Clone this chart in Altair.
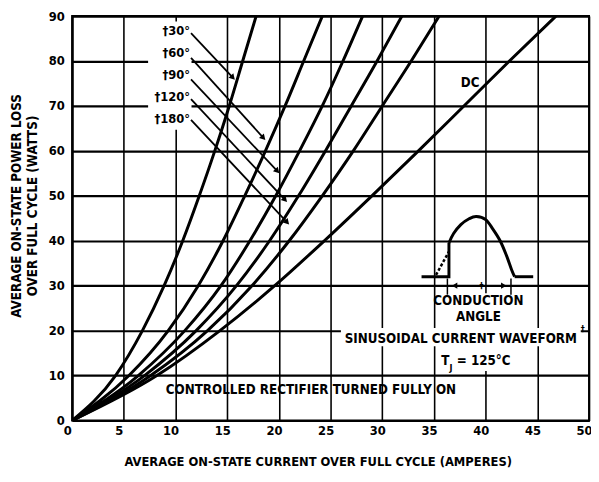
import altair as alt
import pandas as pd

FONT = "DejaVu Sans Condensed, Liberation Sans Narrow, DejaVu Sans, sans-serif"

# ---- curve data: current I (A) at power levels P (W)
P_LEVELS = [0, 10, 20, 30, 40, 50, 60, 70, 80, 90]
I_30 = [0, 4.2, 6.8, 8.9, 10.7, 12.3, 13.8, 15.2, 16.5, 17.8]
I_60 = [0, 5.5, 9.3, 12.2, 14.6, 16.7, 18.7, 20.6, 22.4, 24.2]
I_90 = [0, 6.4, 10.9, 14.4, 17.2, 19.7, 22.0, 24.2, 26.2, 28.1]
I_120 = [0, 7.0, 12.0, 15.9, 19.1, 21.9, 24.5, 27.0, 29.5, 31.9]
I_180 = [0, 7.6, 13.1, 17.4, 21.0, 24.2, 27.2, 30.0, 32.8, 35.5]
I_DC = [0, 8.2, 14.3, 19.6, 24.4, 29.0, 33.5, 37.9, 42.3, 46.8]

X_TICKS = [0, 5, 10, 15, 20, 25, 30, 35, 40, 45, 50]
Y_TICKS = [0, 10, 20, 30, 40, 50, 60, 70, 80, 90]

# ---- angle labels and their arrows
ANGLE_TEXT = ["†30°", "†60°", "†90°", "†120°", "†180°"]
ANGLE_LABEL_I = [11.4, 11.4, 11.4, 11.4, 11.4]
ANGLE_LABEL_P = [86.6, 81.8, 76.8, 71.9, 67.1]
ARROW_I0 = [11.5, 11.5, 11.5, 11.5, 11.5]
ARROW_P0 = [86.2, 80.7, 75.9, 71.5, 66.9]
ARROW_I1 = [15.55, 18.5, 19.85, 20.6, 20.8]
ARROW_P1 = [76.3, 62.9, 55.5, 49.1, 44.1]

# ---- inset waveform
WAVE_ARC_I = [36.45, 36.9, 37.6, 38.4, 39.1, 40.0, 40.7, 41.4, 42.0, 42.5, 42.8]
WAVE_ARC_P = [39.5, 41.6, 43.6, 44.9, 45.4, 44.7, 42.6, 40.0, 36.8, 33.6, 32.0]
WAVE_LEFT_I = [33.8, 36.45, 36.45]
WAVE_LEFT_P = [32.0, 32.0, 39.5]
WAVE_RIGHT_I = [42.8, 44.6]
WAVE_RIGHT_P = [32.0, 32.0]
WAVE_DASH_I = [35.2, 36.45]
WAVE_DASH_P = [32.4, 37.6]
DIM_I = [36.3, 42.45]
DIM_P = [30.0, 30.0]
DIM_TICK_P = [28.0, 31.6]

# ---- free texts
NOTE_TEXT = ["DC", "CONDUCTION", "ANGLE", "SINUSOIDAL CURRENT WAVEFORM",
             "CONTROLLED RECTIFIER TURNED FULLY ON", "= 125°C"]
NOTE_I = [38.5, 39.3, 39.3, 37.6, 23.1, 37.2]
NOTE_P = [75.2, 26.5, 23.0, 18.2, 6.8, 13.2]
NOTE_ALIGN = ["center", "center", "center", "center", "center", "left"]

# ---- white masks that interrupt the grid behind lettering
MASK_I = [7.35, 26.0, 35.4]
MASK_I2 = [11.55, 49.2, 43.5]
MASK_P = [64.7, 16.5, 11.0]
MASK_P2 = [88.8, 20.6, 28.3]

xs = alt.Scale(domain=[0, 50], nice=False, zero=True)
ys = alt.Scale(domain=[0, 90], nice=False, zero=True)

def X(field="I"):
    return alt.X(f"{field}:Q", scale=xs)

def Y(field="P"):
    return alt.Y(f"{field}:Q", scale=ys)

rows = []
for name, vals in [("30", I_30), ("60", I_60), ("90", I_90), ("120", I_120),
                   ("180", I_180), ("DC", I_DC)]:
    for i, p in zip(vals, P_LEVELS):
        rows.append({"curve": name, "I": i, "P": p})
curves_df = pd.DataFrame(rows)

curves = alt.Chart(curves_df).mark_line(color="black", strokeWidth=3, interpolate="monotone",
                                        clip=True).encode(
    x=alt.X("I:Q", scale=xs, axis=alt.Axis(
        values=X_TICKS, grid=True, gridColor="black", gridWidth=1.6, gridOpacity=1,
        domain=True, domainColor="black", domainWidth=2, ticks=False,
        labelFont=FONT, labelFontSize=13, labelFontWeight="bold", labelColor="black",
        labelPadding=4, labelOffset=-5, labelFlush=False, labelOverlap=False, labelBound=False,
        title="AVERAGE ON-STATE CURRENT OVER FULL CYCLE (AMPERES)",
        titleFont=FONT, titleFontSize=13, titleFontWeight="bold", titleColor="black",
        titleX=249, titleY=46, titleAlign="center", titleBaseline="alphabetic")),
    y=alt.Y("P:Q", scale=ys, axis=alt.Axis(
        values=Y_TICKS, grid=True, gridColor="black", gridWidth=2.2, gridOpacity=1,
        domain=True, domainColor="black", domainWidth=2, ticks=False,
        labelFont=FONT, labelFontSize=13, labelFontWeight="bold", labelColor="black",
        labelPadding=8, labelFlush=False, labelOverlap=False, labelBound=False,
        title=["AVERAGE ON-STATE POWER LOSS", "OVER FULL CYCLE (WATTS)"],
        titleFont=FONT, titleFontSize=13.5, titleFontWeight="bold", titleColor="black",
        titleLineHeight=15.5, titleAngle=-90, titleX=-56, titleY=192, titleAlign="center",
        titleBaseline="middle")),
    detail="curve:N",
    order="P:Q",
)

masks = alt.Chart(pd.DataFrame({"I": MASK_I, "I2": MASK_I2, "P": MASK_P, "P2": MASK_P2})).mark_rect(
    color="white").encode(x=X(), x2="I2:Q", y=Y(), y2="P2:Q")

arrow_df = pd.DataFrame({"I": ARROW_I0, "P": ARROW_P0, "I2": ARROW_I1, "P2": ARROW_P1})
arrows = alt.Chart(arrow_df).mark_rule(color="black", strokeWidth=1.8).encode(
    x=X(), y=Y(), x2="I2:Q", y2="P2:Q")
heads = alt.Chart(pd.DataFrame({"I": ARROW_I1, "P": ARROW_P1})).mark_point(
    shape="triangle-right", filled=True, color="black", opacity=1, size=45, angle=47).encode(
    x=X(), y=Y())

angle_labels = alt.Chart(pd.DataFrame({"I": ANGLE_LABEL_I, "P": ANGLE_LABEL_P, "t": ANGLE_TEXT})).mark_text(
    align="right", baseline="middle", font=FONT, fontSize=13, fontWeight="bold", color="black").encode(
    x=X(), y=Y(), text="t:N")

notes_df = pd.DataFrame({"I": NOTE_I, "P": NOTE_P, "t": NOTE_TEXT, "a": NOTE_ALIGN})
notes_c = alt.Chart(notes_df[notes_df.a == "center"]).mark_text(
    align="center", baseline="middle", font=FONT, fontSize=13.5, fontWeight="bold", color="black").encode(
    x=X(), y=Y(), text="t:N")
notes_l = alt.Chart(notes_df[notes_df.a == "left"]).mark_text(
    align="left", baseline="middle", font=FONT, fontSize=13.5, fontWeight="bold", color="black").encode(
    x=X(), y=Y(), text="t:N")

tj_T = alt.Chart(pd.DataFrame({"I": [36.5], "P": [13.2], "t": ["T"]})).mark_text(
    align="right", baseline="middle", font=FONT, fontSize=13.5, fontWeight="bold", color="black").encode(
    x=X(), y=Y(), text="t:N")
tj_J = alt.Chart(pd.DataFrame({"I": [36.5], "P": [11.6], "t": ["J"]})).mark_text(
    align="left", baseline="middle", font=FONT, fontSize=9, fontWeight="bold", color="black").encode(
    x=X(), y=Y(), text="t:N")
dagger = alt.Chart(pd.DataFrame({"I": [49.4, 39.6], "P": [20.3, 30.0], "t": ["†", "†"]})).mark_text(
    align="center", baseline="middle", font=FONT, fontSize=9, fontWeight="bold", color="black").encode(
    x=X(), y=Y(), text="t:N")

def wline(iv, pv, **kw):
    return alt.Chart(pd.DataFrame({"I": iv, "P": pv, "k": list(range(len(iv)))})).mark_line(
        color="black", **kw).encode(x=X(), y=Y(), order="k:Q")

wave = (wline(WAVE_ARC_I, WAVE_ARC_P, strokeWidth=3, interpolate="cardinal")
        + wline(WAVE_LEFT_I, WAVE_LEFT_P, strokeWidth=3)
        + wline(WAVE_RIGHT_I, WAVE_RIGHT_P, strokeWidth=3)
        + wline(WAVE_DASH_I, WAVE_DASH_P, strokeWidth=2.5, strokeDash=[3, 2]))

dim = wline(DIM_I, DIM_P, strokeWidth=1.6)
dim_ticks = alt.Chart(pd.DataFrame({"I": DIM_I, "P": [DIM_TICK_P[0]] * 2, "P2": [DIM_TICK_P[1]] * 2})).mark_rule(
    color="black", strokeWidth=1.5).encode(x=X(), y=Y(), y2="P2:Q")
dim_heads = alt.Chart(pd.DataFrame({"I": [37.0, 41.75], "P": DIM_P, "s": ["triangle-left", "triangle-right"]})).mark_point(
    filled=True, color="black", opacity=1, size=40).encode(
    x=X(), y=Y(), shape=alt.Shape("s:N", scale=None))

chart = alt.layer(
    curves, masks, arrows, heads, angle_labels, notes_c, notes_l, tj_T, tj_J, dagger,
    wave, dim, dim_ticks, dim_heads
).properties(
    width=524, height=410,
    autosize=alt.AutoSizeParams(type="none"),
    padding={"left": 65, "top": 5, "right": 2, "bottom": 48},
    background="white",
).configure_view(stroke="black", strokeWidth=2)

chart.save("out.html", embed_options={"renderer": "svg", "actions": False})
